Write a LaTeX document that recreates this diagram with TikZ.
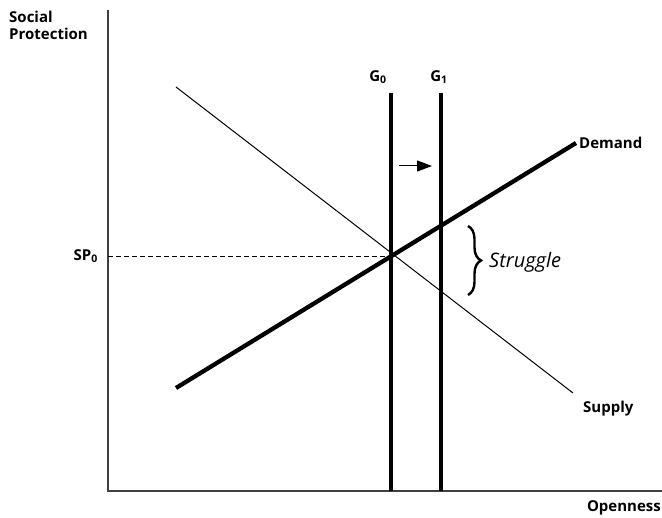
\documentclass[tikz,border=0pt]{standalone}
\usepackage{fontspec}
\setmainfont{Open Sans}
\usetikzlibrary{arrows.meta,decorations.pathreplacing}
\begin{document}
\begin{tikzpicture}[x=1pt,y=-1pt,
  lbl/.style={font=\fontsize{15}{17}\selectfont\bfseries, inner sep=0pt},
  axis/.style={draw=black!75, line width=1.6pt},
  thick line/.style={line width=4.3pt},
  thin line/.style={line width=1pt}]
\useasboundingbox (0,0) rectangle (662,518);
% axes
\coordinate (O) at (108,491);
\coordinate (Ytop) at (108,10);
\coordinate (Xend) at (662,491);
\draw[axis] (Ytop) -- (O) -- (Xend);
% curves
\coordinate (S1) at (176,87);
\coordinate (S2) at (573,393);
\draw[thin line] (S1) -- (S2);
\coordinate (D1) at (176,388);
\coordinate (D2) at (576,143);
\draw[thick line] (D1) -- (D2);
\coordinate (G0t) at (391,93);
\coordinate (G0b) at (391,491);
\coordinate (G1t) at (441,93);
\coordinate (G1b) at (441,491);
\draw[thick line] (G0t) -- (G0b);
\draw[thick line] (G1t) -- (G1b);
% dashed
\coordinate (E) at (391,257);
\coordinate (SPa) at (108,257);
\draw[thin line, dashed, dash pattern=on 5pt off 3pt] (SPa) -- (E);
% arrow
\coordinate (A1) at (399,166);
\coordinate (A2) at (432,166);
\draw[thin line, -{Triangle[length=15pt,width=11pt]}] (A1) -- (A2);
% brace
\coordinate (B1) at (468,226);
\coordinate (B2) at (468,295);
\draw[line width=2.4pt, decorate, decoration={brace, amplitude=13pt}] (B1) -- (B2);
% labels
\node[lbl, anchor=north west, align=left] (sp) at (9,11) {Social\\Protection};
\node[lbl, anchor=east] (sp0) at (98,256) {SP\textsubscript{0}};
\node[lbl, anchor=south] (g0) at (378,84) {G\textsubscript{0}};
\node[lbl, anchor=south] (g1) at (439,84) {G\textsubscript{1}};
\node[lbl, anchor=west] (dem) at (579,143) {Demand};
\node[lbl, anchor=west] (sup) at (583,409) {Supply};
\node[lbl, anchor=east] (open) at (661,508) {Openness};
\node[inner sep=0pt, anchor=west, font=\fontsize{20}{22}\selectfont\itshape] (str) at (489,262) {Struggle};
\end{tikzpicture}
\end{document}
